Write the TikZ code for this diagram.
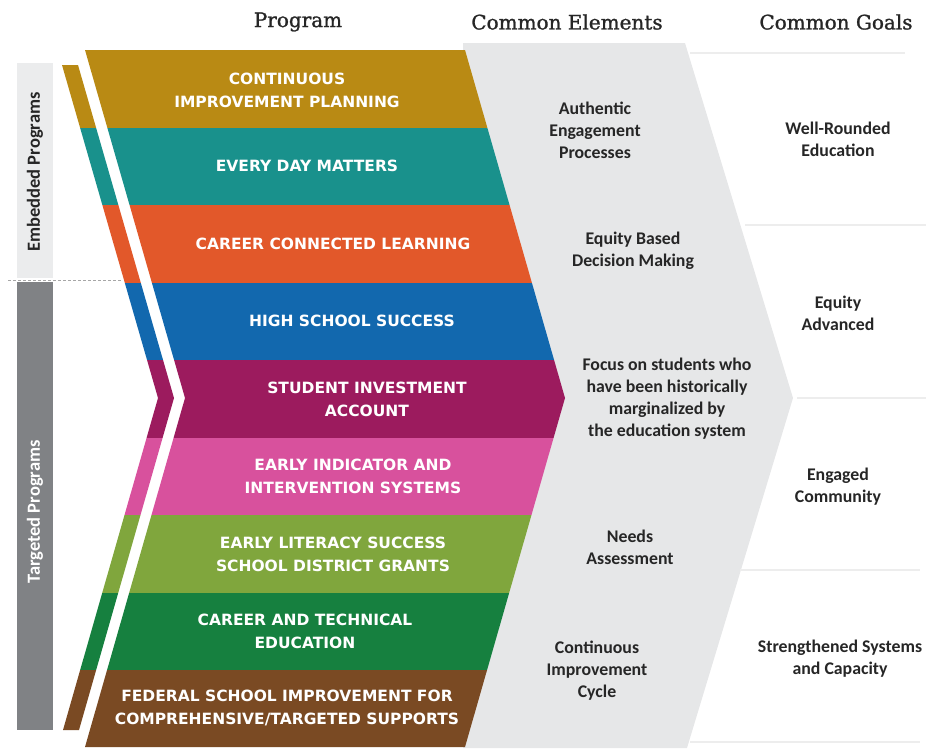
\documentclass[tikz,border=0pt]{standalone}
\usepackage{fontspec}
\setmainfont{Carlito}
\newfontfamily\bandfont{DejaVu Sans}
\newfontfamily\headfont{DejaVu Serif}[FakeBold=1.2]
\definecolor{cipgold}{HTML}{B98A14}
\definecolor{edmteal}{HTML}{19918C}
\definecolor{cclorange}{HTML}{E2582A}
\definecolor{hssblue}{HTML}{1268AE}
\definecolor{siapurple}{HTML}{9C1B5E}
\definecolor{eispink}{HTML}{D8519D}
\definecolor{elsgreen}{HTML}{80A63D}
\definecolor{ctegreen}{HTML}{16803F}
\definecolor{fsibrown}{HTML}{7A4A23}
\definecolor{elemgray}{HTML}{E6E7E8}
\definecolor{embgray}{HTML}{EBECED}
\definecolor{tgtgray}{HTML}{808285}
\begin{document}
\begin{tikzpicture}[x=1pt, y=-1pt,
  head/.style={font=\headfont\fontsize{20}{24}\selectfont, text=black!85},
  prog/.style={font=\bandfont\bfseries\fontsize{15.5}{23}\selectfont,
    text=white, align=center, inner sep=0pt
  },
  elem/.style={font=\bfseries\fontsize{17.8}{22}\selectfont,
    text=black!85, align=center, inner sep=0pt
  },
  side/.style={rotate=90, font=\bfseries\fontsize{18.5}{20}\selectfont, inner sep=0pt},
  sep/.style={draw=black!7, line width=1.5pt},
  ]
  \useasboundingbox (0,0) rectangle (926,748);
  \node[head] (prog) at (298,22) {Program};
  \node[head] (elem) at (567,22) {Common Elements};
  \node[head] (goal) at (836,22) {Common Goals};

  \fill[embgray] (17,63) rectangle (53,278);
  \fill[tgtgray] (17,282) rectangle (53,730);
  \draw[black!35, densely dashed, line width=0.6pt] (8,280) -- (122,280);
  \node[side, text=black!85] (emb) at (35,172) {Embedded Programs};
  \node[side, text=white] (tgt) at (35,512) {Targeted Programs};

  \fill[elemgray] (463,43) -- (685,43) -- (793,398) -- (687,748) -- (463,748) -- cycle;
  \draw[sep] (690,53) -- (905,53);
  \draw[sep] (745,225) -- (926,225);
  \draw[sep] (797,398) -- (926,398);
  \draw[sep] (740,570) -- (920,570);
  \draw[sep] (690,742) -- (920,742);

  \begin{scope}
    \clip (85,50) -- (465,50) -- (565,398) -- (465,747) -- (85,747) -- (185,398) -- cycle
      (62,65) -- (78,65) -- (174,398) -- (79,730) -- (63,730) -- (158,398) -- cycle;
    \fill[cipgold] (0,50) rectangle (600,128);
    \fill[edmteal] (0,128) rectangle (600,205);
    \fill[cclorange] (0,205) rectangle (600,283);
    \fill[hssblue] (0,283) rectangle (600,360);
    \fill[siapurple] (0,360) rectangle (600,438);
    \fill[eispink] (0,438) rectangle (600,515);
    \fill[elsgreen] (0,515) rectangle (600,593);
    \fill[ctegreen] (0,593) rectangle (600,670);
    \fill[fsibrown] (0,670) rectangle (600,748);
  \end{scope}

  \node[prog] (cip) at (287,90) {CONTINUOUS\\IMPROVEMENT PLANNING};
  \node[prog] (edm) at (307,166) {EVERY DAY MATTERS};
  \node[prog] (ccl) at (333,244) {CAREER CONNECTED LEARNING};
  \node[prog] (hss) at (352,321) {HIGH SCHOOL SUCCESS};
  \node[prog] (sia) at (367,399) {STUDENT INVESTMENT\\ACCOUNT};
  \node[prog] (eis) at (353,476) {EARLY INDICATOR AND\\INTERVENTION SYSTEMS};
  \node[prog] (els) at (333,554) {EARLY LITERACY SUCCESS\\SCHOOL DISTRICT GRANTS};
  \node[prog] (cte) at (305,631) {CAREER AND TECHNICAL\\EDUCATION};
  \node[prog] (fsi) at (287,708) {FEDERAL SCHOOL IMPROVEMENT FOR\\COMPREHENSIVE/TARGETED SUPPORTS};

  \node[elem] (aep) at (595,130) {Authentic\\Engagement\\Processes};
  \node[elem] (ebd) at (633,251) {Equity Based\\Decision Making};
  \node[elem] (fos) at (667,399) {Focus on students who\\have been historically\\marginalized by\\the education system};
  \node[elem] (nas) at (630,547) {Needs\\Assessment};
  \node[elem] (cic) at (597,671) {Continuous\\Improvement\\Cycle};

  \node[elem] (wre) at (838,139) {Well-Rounded\\Education};
  \node[elem] (eqa) at (838,313) {Equity\\Advanced};
  \node[elem] (enc) at (838,487) {Engaged\\Community};
  \node[elem] (ssc) at (840,659) {Strengthened Systems\\and Capacity};
\end{tikzpicture}
\end{document}
